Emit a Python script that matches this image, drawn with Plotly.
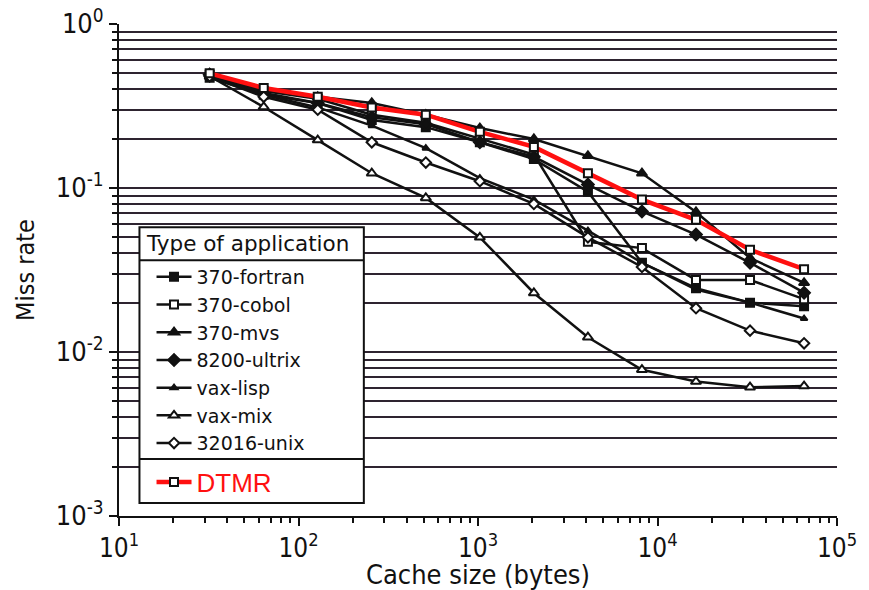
import plotly.graph_objects as go

cache_size = [32, 64, 128, 256, 512, 1024, 2048, 4096, 8192, 16384, 32768, 65536]

fortran_370 = [0.47, 0.37, 0.33, 0.26, 0.235, 0.19, 0.15, 0.095, 0.035, 0.0245, 0.020, 0.019]
cobol_370 = [0.49, 0.39, 0.35, 0.28, 0.25, 0.20, 0.16, 0.047, 0.043, 0.0275, 0.0275, 0.021]
mvs_370 = [0.50, 0.40, 0.36, 0.33, 0.28, 0.232, 0.199, 0.157, 0.123, 0.0714, 0.0374, 0.0264]
ultrix_8200 = [0.49, 0.38, 0.33, 0.27, 0.245, 0.19, 0.155, 0.105, 0.072, 0.052, 0.035, 0.023]
vax_lisp = [0.48, 0.37, 0.31, 0.24, 0.175, 0.115, 0.085, 0.055, 0.035, 0.024, 0.020, 0.016]
vax_mix = [0.48, 0.312, 0.196, 0.123, 0.087, 0.050, 0.0229, 0.0123, 0.0078, 0.0066, 0.0061, 0.0062]
unix_32016 = [0.48, 0.36, 0.30, 0.19, 0.143, 0.11, 0.08, 0.05, 0.033, 0.0185, 0.0135, 0.0113]
dtmr = [0.50, 0.407, 0.36, 0.31, 0.28, 0.22, 0.178, 0.123, 0.085, 0.064, 0.042, 0.032]

series_names = ["370-fortran", "370-cobol", "370-mvs", "8200-ultrix", "vax-lisp", "vax-mix", "32016-unix"]
series_values = [fortran_370, cobol_370, mvs_370, ultrix_8200, vax_lisp, vax_mix, unix_32016]
series_symbols = ["square", "square", "triangle-up", "diamond", "triangle-up", "triangle-up", "diamond"]
series_fill = ["#111", "white", "#111", "#111", "#111", "white", "white"]
series_size = [8, 8, 9, 9, 6, 9, 8]

x_tickvals = [10, 100, 1000, 10000, 100000]
x_ticktext = ["10<sup>1</sup>", "10<sup>2</sup>", "10<sup>3</sup>", "10<sup>4</sup>", "10<sup>5</sup>"]
y_tickvals = [0.001, 0.01, 0.1, 1]
y_ticktext = ["10<sup>-3</sup>", "10<sup>-2</sup>", "10<sup>-1</sup>", "10<sup>0</sup>"]

FONT = "DejaVu Sans Condensed, DejaVu Sans, sans-serif"
LFONT = "DejaVu Sans, sans-serif"

fig = go.Figure()
for name, vals, sym, fill, sz in zip(series_names, series_values, series_symbols, series_fill, series_size):
    fig.add_trace(go.Scatter(
        x=cache_size, y=vals, name=name, mode="lines+markers",
        line=dict(color="#111", width=2.5),
        marker=dict(symbol=sym, size=sz, color=fill, line=dict(color="#111", width=2)),
        legend="legend",
    ))

fig.add_trace(go.Scatter(
    x=cache_size, y=dtmr, name="DTMR", mode="lines+markers",
    line=dict(color="#ff1010", width=4.5),
    marker=dict(symbol="square", size=8, color="white", line=dict(color="#111", width=2)),
    legend="legend2",
))

# legend box geometry (paper coords)
bx0, bx1 = 0.0285, 0.341
by_top, by_sep1, by_sep2, by_bot = 0.587, 0.520, 0.116, 0.0264

fig.add_shape(type="rect", xref="paper", yref="paper", x0=bx0, x1=bx1, y0=by_bot, y1=by_top,
              fillcolor="white", line=dict(color="#111", width=2), layer="above")
fig.add_shape(type="line", xref="paper", yref="paper", x0=bx0, x1=bx1, y0=by_sep1, y1=by_sep1,
              line=dict(color="#111", width=2), layer="above")
fig.add_shape(type="line", xref="paper", yref="paper", x0=bx0, x1=bx1, y0=by_sep2, y1=by_sep2,
              line=dict(color="#111", width=2), layer="above")

fig.add_annotation(text="Type of application", xref="paper", yref="paper",
                   x=bx0 + 0.006, y=(by_top + by_sep1) / 2, xanchor="left", yanchor="middle",
                   showarrow=False, font=dict(family=LFONT, size=21.5, color="#111"))

fig.update_layout(
    width=869, height=590,
    margin=dict(l=119, r=32, t=24, b=74, autoexpand=False),
    paper_bgcolor="white", plot_bgcolor="white",
    font=dict(family=FONT, color="#111"),
    legend=dict(x=0.0453, y=0.5244, xanchor="left", yanchor="top",
                bgcolor="rgba(0,0,0,0)", borderwidth=0, itemwidth=35,
                font=dict(family=LFONT, size=19, color="#111"), tracegroupgap=0),
    legend2=dict(x=0.0453, y=0.1167, xanchor="left", yanchor="top",
                 bgcolor="rgba(0,0,0,0)", borderwidth=0, itemwidth=35,
                 font=dict(family="Liberation Sans, Arial, sans-serif", size=26, color="#ff1010")),
    showlegend=True,
)

fig.update_xaxes(
    type="log", range=[1, 5], automargin=False, ticklabeloverflow="allow",
    tickvals=x_tickvals, ticktext=x_ticktext,
    tickfont=dict(family=FONT, size=26, color="#111"),
    showgrid=False, zeroline=False,
    showline=True, linecolor="#111", linewidth=2,
    ticks="outside", ticklen=8, tickwidth=2, tickcolor="#111",
    minor=dict(ticks="outside", ticklen=5, tickwidth=2, tickcolor="#111", dtick="D1", showgrid=False),
    title=dict(text="Cache size (bytes)", font=dict(family=FONT, size=27, color="#111"), standoff=9),
)

fig.update_yaxes(
    type="log", range=[-3, 0], automargin=False, ticklabeloverflow="allow",
    tickvals=y_tickvals, ticktext=y_ticktext,
    tickfont=dict(family=FONT, size=27, color="#111"),
    showgrid=True, gridcolor="#2e2430", gridwidth=2,
    zeroline=False,
    showline=True, linecolor="#111", linewidth=2,
    ticks="outside", ticklen=8, tickwidth=2, tickcolor="#111",
    minor=dict(ticks="outside", ticklen=5, tickwidth=2, tickcolor="#111", dtick="D1",
               showgrid=True, gridcolor="#2e2430", gridwidth=2),
    title=dict(text="Miss rate", font=dict(family=FONT, size=25, color="#111"), standoff=14),
)

# remove the default 8px page margin so the 869x590 figure fills the window exactly
fig.write_html("out.html", config={"displayModeBar": False},
               post_script="document.body.style.margin='0px';")
